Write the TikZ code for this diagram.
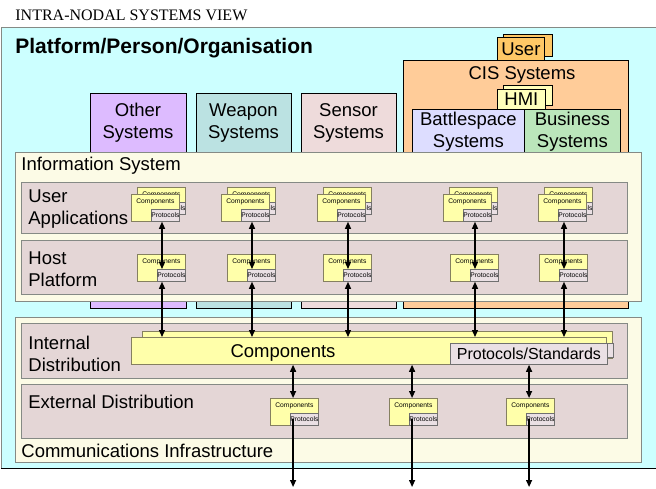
\documentclass[tikz,border=0pt]{standalone}
\usepackage{fontspec}
\setmainfont{Liberation Sans}
\newfontfamily\serifttl{Liberation Serif}
\usetikzlibrary{arrows.meta}
\def\bigtxt{\fontsize{18.5}{22}\selectfont}
\def\tinytxt{\fontsize{6.7}{7}\selectfont}
\definecolor{cyanbg}{HTML}{CCFFFF}
\definecolor{cream}{HTML}{FCFBE6}
\definecolor{frame}{HTML}{858A85}
\definecolor{bandfill}{HTML}{E4D6D6}
\definecolor{compfill}{HTML}{FFFFAA}
\definecolor{compline}{HTML}{858060}
\definecolor{protfill}{HTML}{EAE0E4}
\definecolor{protline}{HTML}{707070}
\definecolor{otherfill}{HTML}{DDBBFF}
\definecolor{weaponfill}{HTML}{BBE2E2}
\definecolor{sensorfill}{HTML}{EEDBDB}
\definecolor{cisfill}{HTML}{FFCC99}
\definecolor{userfill}{HTML}{FFC866}
\definecolor{hmifill}{HTML}{FFFFBB}
\definecolor{bsfill}{HTML}{DDDDFF}
\definecolor{busfill}{HTML}{BBE6BB}

\begin{document}
\begin{tikzpicture}
[x=1pt, y=-1pt, line width=0.8pt,
 >={Triangle[length=7pt,width=6pt]},
 comp/.style={draw=compline, fill=compfill, anchor=north west, minimum width=48pt,
   inner xsep=0pt, inner ysep=2pt, text height=7pt, text depth=16pt, font=\tinytxt},
 prot/.style={draw=protline, fill=protfill, anchor=south east, minimum width=28pt,
   minimum height=12pt, inner sep=0pt, font=\tinytxt},
 sysbox/.style={draw, anchor=north west, inner sep=0pt, font=\bigtxt, align=center},
 link/.style={<->, line width=1.2pt},
 lbl/.style={font=\bigtxt, align=left, anchor=west, inner sep=0pt}]
\useasboundingbox (0,0) rectangle (656,489);

\fill [cyanbg] (1,27) rectangle (662,468);
\draw [frame] (1,468) -- (1,27) -- (662,27);
\draw [line width=1pt] (1,468) -- (662,468);

\node [anchor=base west, inner sep=0pt, font=\serifttl\fontsize{16}{18}\selectfont] (title) at (15,21) {INTRA-NODAL SYSTEMS VIEW};
\node [anchor=base west, inner sep=0pt, font=\bfseries\fontsize{21}{24}\selectfont] (ppo) at (15,54) {Platform/Person/Organisation};


% CIS side
\draw [fill=userfill] (503,34) rectangle (552,56);
\node [sysbox, fill=userfill, minimum width=47pt, minimum height=23pt] (user) at (497,37) {User};
\draw [fill=cisfill] (403,60) rectangle (628,308);
\node [font=\bigtxt, anchor=base] (cistext) at (522,80) {CIS Systems};
\draw [fill=hmifill] (503,85) rectangle (552,105);
\node [sysbox, fill=hmifill, minimum width=48pt, minimum height=20pt] (hmi) at (497,89) {HMI};
\node [sysbox, fill=bsfill, minimum width=112pt, minimum height=45pt] (bs) at (412,109) {Battlespace\\Systems};
\node [sysbox, fill=busfill, minimum width=96pt, minimum height=45pt] (bus) at (524,109) {Business\\Systems};

\draw [fill=otherfill] (90,93) rectangle (186,308);
\node [font=\bigtxt, align=center] (othertext) at (138,123) {Other\\Systems};
\draw [fill=weaponfill] (196,93) rectangle (291,308);
\node [font=\bigtxt, align=center] (weapontext) at (243.5,123) {Weapon\\Systems};
\draw [fill=sensorfill] (301,93) rectangle (396,308);
\node [font=\bigtxt, align=center] (sensortext) at (348.5,123) {Sensor\\Systems};


% information system
\draw [frame, fill=cream] (15,152) rectangle (641,301);
\node [anchor=base west, inner sep=0pt, font=\bigtxt] (istext) at (21,171) {Information System};
\draw [frame, fill=bandfill] (21,182) rectangle (627,233);
\node [lbl] (uatext) at (28,209) {User\\Applications};
\draw [frame, fill=bandfill] (21,240) rectangle (627,294);
\node [lbl] (hptext) at (28,269) {Host\\Platform};

% communications infrastructure
\draw [frame, fill=cream] (15,317) rectangle (641,462);
\node [anchor=base west, inner sep=0pt, font=\bigtxt] (citext) at (21,457) {Communications Infrastructure};
\draw [frame, fill=bandfill] (21,323) rectangle (627,378);
\node [lbl] (idtext) at (28,353.5) {Internal\\Distribution};
\draw [frame, fill=bandfill] (21,384) rectangle (627,438);
\node [anchor=base west, inner sep=0pt, font=\bigtxt] (edtext) at (28,408) {External Distribution};

\draw [draw=compline, fill=compfill] (142,331) rectangle (612,358);
\draw [draw=protline, fill=protfill] (457,343) rectangle (613,357);
\node [draw=compline, fill=compfill, anchor=north west, minimum width=475pt, minimum height=27pt, inner sep=0pt] (bigc) at (131,337) {};
\node [draw=protline, fill=protfill, anchor=north west, minimum width=157pt, minimum height=21pt, inner sep=0pt, font=\fontsize{16}{18}\selectfont] (bigp) at (450,343) {Protocols/Standards};
\node [anchor=base, font=\bigtxt] (bigctext) at (283,357) {Components};


% user applications
\node [comp] (ua1b) at (137,187) {Components};
\node [prot] (ua1bp) at (ua1b.south east) {Protocols};
\node [comp] (ua1) at (131,194) {Components};
\node [prot] (ua1p) at (ua1.south east) {Protocols};

\node [comp] (ua2b) at (227,187) {Components};
\node [prot] (ua2bp) at (ua2b.south east) {Protocols};
\node [comp] (ua2) at (221,194) {Components};
\node [prot] (ua2p) at (ua2.south east) {Protocols};

\node [comp] (ua3b) at (323,187) {Components};
\node [prot] (ua3bp) at (ua3b.south east) {Protocols};
\node [comp] (ua3) at (317,194) {Components};
\node [prot] (ua3p) at (ua3.south east) {Protocols};

\node [comp] (ua4b) at (449,187) {Components};
\node [prot] (ua4bp) at (ua4b.south east) {Protocols};
\node [comp] (ua4) at (443,194) {Components};
\node [prot] (ua4p) at (ua4.south east) {Protocols};

\node [comp] (ua5b) at (544,187) {Components};
\node [prot] (ua5bp) at (ua5b.south east) {Protocols};
\node [comp] (ua5) at (538,194) {Components};
\node [prot] (ua5p) at (ua5.south east) {Protocols};

% host platform
\node [comp] (hp1) at (137,254) {Components};
\node [prot] (hp1p) at (hp1.south east) {Protocols};
\node [comp] (hp2) at (227,254) {Components};
\node [prot] (hp2p) at (hp2.south east) {Protocols};
\node [comp] (hp3) at (323,254) {Components};
\node [prot] (hp3p) at (hp3.south east) {Protocols};
\node [comp] (hp4) at (450,254) {Components};
\node [prot] (hp4p) at (hp4.south east) {Protocols};
\node [comp] (hp5) at (539,254) {Components};
\node [prot] (hp5p) at (hp5.south east) {Protocols};

% external distribution
\node [comp] (ed1) at (270,398) {Components};
\node [prot, minimum width=27pt] (ed1p) at (ed1.south east) {Protocols};
\node [comp] (ed2) at (389,398) {Components};
\node [prot, minimum width=27pt] (ed2p) at (ed2.south east) {Protocols};
\node [comp] (ed3) at (506,398) {Components};
\node [prot, minimum width=27pt] (ed3p) at (ed3.south east) {Protocols};

\coordinate (exit) at (0,487);


\draw [link] ([xshift=5pt]hp1p.north west |- ua1p.south) -- ([xshift=5pt]hp1p.north west);
\draw [link] ([xshift=5pt]hp2p.north west |- ua2p.south) -- ([xshift=5pt]hp2p.north west);
\draw [link] ([xshift=5pt]hp3p.north west |- ua3p.south) -- ([xshift=5pt]hp3p.north west);
\draw [link] ([xshift=5pt]hp4p.north west |- ua4p.south) -- ([xshift=5pt]hp4p.north west);
\draw [link] ([xshift=5pt]hp5p.north west |- ua5p.south) -- ([xshift=5pt]hp5p.north west);

\draw [link] ([xshift=5pt]hp1p.south west) -- ([xshift=5pt]hp1p.south west |- bigc.north);
\draw [link] ([xshift=5pt]hp2p.south west) -- ([xshift=5pt]hp2p.south west |- bigc.north);
\draw [link] ([xshift=5pt]hp3p.south west) -- ([xshift=5pt]hp3p.south west |- bigc.north);
\draw [link] ([xshift=5pt]hp4p.south west) -- ([xshift=5pt]hp4p.south west |- bigc.north);
\draw [link] ([xshift=5pt]hp5p.south west) -- ([xshift=5pt]hp5p.south west |- bigc.north);

\draw [link] ([xshift=3pt]ed1p.north west |- bigc.south) -- ([xshift=3pt]ed1p.north west |- ed1.north);
\draw [link] ([xshift=3pt]ed2p.north west |- bigc.south) -- ([xshift=3pt]ed2p.north west |- ed2.north);
\draw [link] ([xshift=3pt]ed3p.north west |- bigc.south) -- ([xshift=3pt]ed3p.north west |- ed3.north);

\draw [->, line width=1.2pt] ([xshift=3pt]ed1p.west) -- ([xshift=3pt]ed1p.west |- exit);
\draw [->, line width=1.2pt] ([xshift=3pt]ed2p.west) -- ([xshift=3pt]ed2p.west |- exit);
\draw [->, line width=1.2pt] ([xshift=3pt]ed3p.west) -- ([xshift=3pt]ed3p.west |- exit);

%\draw [help lines, step=10pt] (0,0) grid (656,489);
\end{tikzpicture}
\end{document}
